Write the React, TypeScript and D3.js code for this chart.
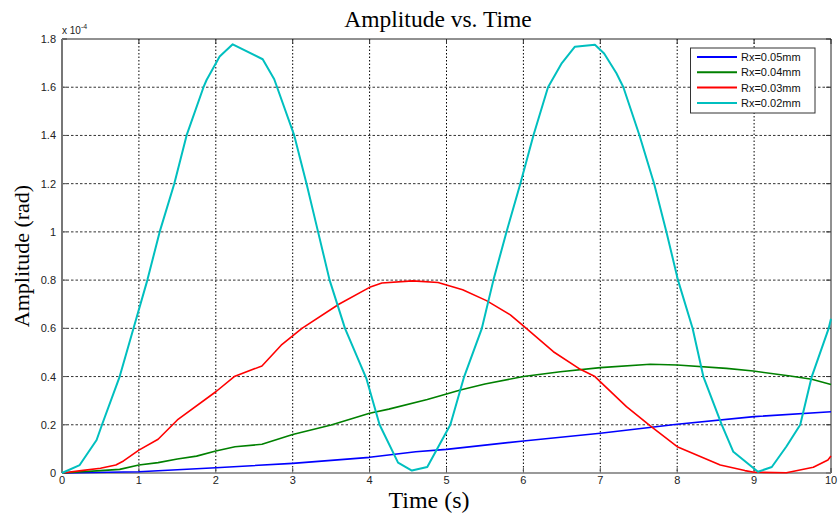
import React from "react";
import * as d3 from "d3";

// [time (s), amplitude (x1e-4 rad)]
const rx005: [number, number][] = [
  [0, 0], [1, 0.005], [2, 0.022], [3, 0.04], [4, 0.065], [4.6, 0.088],
  [5, 0.098], [6, 0.133], [7, 0.165], [8, 0.202], [9, 0.234], [10, 0.254]
];
const rx004: [number, number][] = [
  [0, 0], [0.5, 0.01], [0.75, 0.015], [1, 0.033], [1.25, 0.043], [1.5, 0.058],
  [1.75, 0.07], [2, 0.091], [2.25, 0.109], [2.6, 0.119], [3, 0.16], [3.5, 0.199],
  [4, 0.248], [4.25, 0.265], [4.75, 0.305], [5, 0.328], [5.18, 0.344], [5.5, 0.369],
  [6, 0.4], [6.48, 0.42], [7, 0.437], [7.65, 0.451], [8, 0.448], [8.64, 0.434],
  [8.99, 0.423], [9.47, 0.402], [9.75, 0.389], [10, 0.367]
];
const rx003: [number, number][] = [
  [0, 0], [0.25, 0.01], [0.5, 0.02], [0.7, 0.033], [0.8, 0.05], [1, 0.095],
  [1.25, 0.14], [1.5, 0.22], [2, 0.337], [2.24, 0.4], [2.6, 0.444], [2.85, 0.53],
  [3.12, 0.6], [3.6, 0.7], [4, 0.77], [4.16, 0.788], [4.56, 0.797], [4.89, 0.79],
  [5.21, 0.76], [5.52, 0.715], [5.83, 0.656], [6, 0.61], [6.39, 0.503], [6.74, 0.43],
  [6.93, 0.4], [7.34, 0.275], [7.65, 0.195], [8, 0.109], [8.56, 0.033], [8.88, 0.01],
  [9, 0.003], [9.42, 0.001], [9.77, 0.024], [9.96, 0.054], [10, 0.07]
];
const rx002: [number, number][] = [
  [0, 0], [0.23, 0.033], [0.45, 0.137], [0.52, 0.2], [0.75, 0.4], [0.93, 0.6],
  [1.11, 0.8], [1.27, 1.0], [1.46, 1.2], [1.62, 1.4], [1.84, 1.6], [1.88, 1.63],
  [2.05, 1.727], [2.22, 1.778], [2.61, 1.716], [2.76, 1.633], [3.02, 1.4], [3.18, 1.2],
  [3.33, 1.0], [3.48, 0.8], [3.68, 0.6], [3.96, 0.39], [4.13, 0.2], [4.37, 0.043],
  [4.55, 0.01], [4.75, 0.025], [5.05, 0.2], [5.23, 0.4], [5.46, 0.6], [5.61, 0.8],
  [5.78, 1.0], [5.96, 1.2], [6.13, 1.4], [6.32, 1.6], [6.5, 1.7], [6.67, 1.768],
  [6.93, 1.776], [7.05, 1.74], [7.21, 1.658], [7.3, 1.6], [7.51, 1.4], [7.7, 1.2],
  [7.86, 1.0], [8.01, 0.8], [8.2, 0.6], [8.34, 0.4], [8.58, 0.2], [8.73, 0.088],
  [9.05, 0.005], [9.23, 0.025], [9.42, 0.11], [9.6, 0.2], [9.75, 0.4], [9.97, 0.6],
  [10, 0.64]
];

const seriesNames = ["Rx=0.05mm", "Rx=0.04mm", "Rx=0.03mm", "Rx=0.02mm"];
const seriesData = [rx005, rx004, rx003, rx002];
const colors = ["#0000ff", "#008000", "#ff0000", "#00bfbf"];

const xTicks = [0, 1, 2, 3, 4, 5, 6, 7, 8, 9, 10];
const yTicks = [0, 0.2, 0.4, 0.6, 0.8, 1, 1.2, 1.4, 1.6, 1.8];

const width = 838;
const height = 515;
const left = 62, right = 831, top = 39, bottom = 473;

export default function App() {
  const x = d3.scaleLinear().domain([0, 10]).range([left, right]);
  const y = d3.scaleLinear().domain([0, 1.8]).range([bottom, top]);
  const line = d3.line<[number, number]>().x(d => x(d[0])).y(d => y(d[1]));
  const tickFont = "'Liberation Sans', Arial, sans-serif";
  const serif = "'Liberation Serif', 'Times New Roman', serif";

  return (
    <svg width={width} height={height} style={{ position: "absolute", left: 0, top: 0 }}>
      <rect width={width} height={height} fill="#fff" />
      {/* grid */}
      {xTicks.slice(1, -1).map(t => (
        <line key={"gx" + t} x1={x(t)} x2={x(t)} y1={top} y2={bottom}
          stroke="#000" strokeWidth={1} strokeDasharray="1.5,2" />
      ))}
      {yTicks.slice(1, -1).map(t => (
        <line key={"gy" + t} x1={left} x2={right} y1={y(t)} y2={y(t)}
          stroke="#333" strokeWidth={1} strokeDasharray="2.5,2" />
      ))}
      {/* ticks */}
      {xTicks.map(t => (
        <g key={"tx" + t}>
          <line x1={x(t)} x2={x(t)} y1={bottom} y2={bottom - 5} stroke="#555" />
          <line x1={x(t)} x2={x(t)} y1={top} y2={top + 5} stroke="#333" />
          <text x={x(t)} y={484} textAnchor="middle" fontFamily={tickFont}
            fontSize={11} fill="#222">{t}</text>
        </g>
      ))}
      {yTicks.map(t => (
        <g key={"ty" + t}>
          <line x1={left} x2={left + 5} y1={y(t)} y2={y(t)} stroke="#555" />
          <line x1={right} x2={right - 5} y1={y(t)} y2={y(t)} stroke="#333" />
          <text x={56} y={y(t) + 4} textAnchor="end" fontFamily={tickFont}
            fontSize={11} fill="#222">{t}</text>
        </g>
      ))}
      {/* box */}
      <line x1={left} x2={right} y1={top} y2={top} stroke="#222" strokeWidth={1} />
      <line x1={right} x2={right} y1={top} y2={bottom} stroke="#222" strokeWidth={1} />
      <line x1={left} x2={right} y1={bottom} y2={bottom} stroke="#777" strokeWidth={1.5} />
      <line x1={left} x2={left} y1={top} y2={bottom} stroke="#777" strokeWidth={2} />
      {/* series */}
      {seriesData.map((s, i) => (
        <path key={seriesNames[i]} d={line(s) || ""} fill="none" stroke={colors[i]}
          strokeWidth={i === 3 ? 2 : 1.6} strokeLinejoin="round" />
      ))}
      {/* exponent */}
      <text x={62} y={34} fontFamily={tickFont} fontSize={10} fill="#222">
        x 10<tspan dy={-5} fontSize={7}>-4</tspan>
      </text>
      {/* titles */}
      <text x={438} y={27} textAnchor="middle" fontFamily={serif}
        fontSize={23.5} fill="#000">Amplitude vs. Time</text>
      <text x={429} y={508} textAnchor="middle" fontFamily={serif}
        fontSize={24} fill="#000">Time (s)</text>
      <text transform={`translate(29,256) rotate(-90)`} textAnchor="middle"
        fontFamily={serif} fontSize={22} fill="#000">Amplitude (rad)</text>
      {/* legend */}
      <g>
        <rect x={690.5} y={48} width={124.5} height={65} fill="#fff" stroke="#333" strokeWidth={1} />
        {seriesNames.map((n, i) => {
          const ly = 57 + i * 15.3;
          return (
            <g key={"lg" + n}>
              <line x1={697} x2={737} y1={ly} y2={ly} stroke={colors[i]} strokeWidth={2} />
              <text x={741} y={ly + 4} fontFamily={tickFont} fontSize={11} fill="#111">{n}</text>
            </g>
          );
        })}
      </g>
    </svg>
  );
}
